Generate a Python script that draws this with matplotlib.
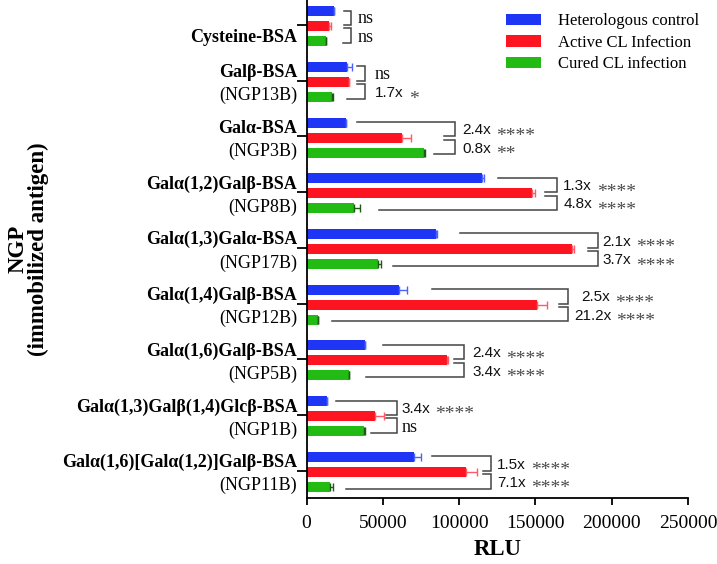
import matplotlib
matplotlib.use("Agg")
import matplotlib.pyplot as plt
import matplotlib.transforms as mtransforms
from matplotlib.patches import Patch
import numpy as np

# ---------------- data ----------------
names = ["Cysteine-BSA", "Galβ-BSA", "Galα-BSA", "Galα(1,2)Galβ-BSA",
         "Galα(1,3)Galα-BSA", "Galα(1,4)Galβ-BSA", "Galα(1,6)Galβ-BSA",
         "Galα(1,3)Galβ(1,4)Glcβ-BSA", "Galα(1,6)[Galα(1,2)]Galβ-BSA"]
ngp_codes = ["", "(NGP13B)", "(NGP3B)", "(NGP8B)", "(NGP17B)", "(NGP12B)",
             "(NGP5B)", "(NGP1B)", "(NGP11B)"]
series_names = ["Heterologous control", "Active CL Infection", "Cured CL infection"]

control = [18000, 26300, 25800, 114700, 84800, 60300, 38500, 13600, 70600]
control_err = [0, 3300, 0, 1700, 800, 5200, 0, 0, 4200]
active = [14700, 27800, 62300, 147900, 173700, 151200, 92200, 44600, 104500]
active_err = [1500, 0, 6100, 1800, 1700, 6300, 600, 5900, 7000]
cured = [12500, 16400, 77100, 31000, 47000, 7500, 27600, 37400, 15300]
cured_err = [500, 1000, 800, 4000, 1500, 0, 500, 1000, 2200]

# significance brackets (x in RLU)
bracket_x = [29100, 38100, 97200, 163900, 191100, 171500, 103300, 59000, 120800]
blue_start = [24500, 32800, 33200, 125600, 100500, 82000, 50300, 19300, 82400]
red_start = [24500, 33000, 90200, 156200, 184600, 165600, 96600, 52000, 115800]
green_start = [23700, 26700, 83700, 47400, 56400, 16800, 38900, 42000, 25800]
upper_labels = ["ns", "ns", "2.4x", "1.3x", "2.1x", "2.5x", "2.4x", "3.4x", "1.5x"]
upper_stars = ["", "", "****", "****", "****", "****", "****", "****", "****"]
lower_labels = ["ns", "1.7x", "0.8x", "4.8x", "3.7x", "21.2x", "3.4x", "ns", "7.1x"]
lower_stars = ["", "*", "**", "****", "****", "****", "****", "", "****"]
upper_label_x = [33700, 44800, 102300, 168200, 193800, 180200, 108800, 62300, 125000]
lower_label_x = [33700, 44800, 102300, 168200, 193800, 175300, 108800, 62300, 125000]

xticks = [0, 50000, 100000, 150000, 200000, 250000]

# ---------------- style ----------------
SERIF = ["Liberation Serif", "DejaVu Serif"]
SANS = ["Liberation Sans", "DejaVu Sans"]
plt.rcParams["font.family"] = SERIF

colors = ["#1f35f5", "#fc1420", "#22bb14"]
err_colors = ["#4a63ff", "#ff5a66", "#1d5a14"]

fig = plt.figure(figsize=(7.17, 5.64), dpi=100)
ax = fig.add_axes([306.6 / 717, 66 / 564, 381.4 / 717, 498 / 564])

y = np.arange(len(names))
off = 0.27
bh = 0.18
shift = 0.02
series = [(control, control_err), (active, active_err), (cured, cured_err)]
for i, (vals, errs) in enumerate(series):
    yy = y + shift + (i - 1) * off
    ax.barh(yy, vals, height=bh, color=colors[i], edgecolor="none",
            label=series_names[i], zorder=2)
    ax.errorbar(vals, yy, xerr=[np.zeros(len(errs)), errs], fmt="none",
                ecolor=err_colors[i], elinewidth=1.0, capsize=2.6,
                capthick=1.0, zorder=3)

ax.set_xlim(0, 250000)
ax.set_ylim(8.49, -0.45)
ax.set_xticks(xticks)
ax.set_xticklabels([str(t) for t in xticks], fontsize=14)
ax.set_yticks(y)
ax.set_yticklabels([])
for s in ["top", "right"]:
    ax.spines[s].set_visible(False)
for s in ["left", "bottom"]:
    ax.spines[s].set_linewidth(1.3)
ax.tick_params(axis="x", length=5, width=1.3, pad=7)
ax.tick_params(axis="y", length=7, width=1.3)

# category labels
ytr = ax.get_yaxis_transform()
for k in range(len(names)):
    if ngp_codes[k]:
        ax.annotate(names[k], xy=(0, y[k] - 0.145), xycoords=ytr,
                    xytext=(-6.7, 0), textcoords="offset points",
                    ha="right", va="center", fontsize=13, fontweight="bold")
        ax.annotate(ngp_codes[k], xy=(0, y[k] + 0.27), xycoords=ytr,
                    xytext=(-6.7, 0), textcoords="offset points",
                    ha="right", va="center", fontsize=13)
    else:
        ax.annotate(names[k], xy=(0, y[k] + 0.23), xycoords=ytr,
                    xytext=(-6.7, 0), textcoords="offset points",
                    ha="right", va="center", fontsize=13, fontweight="bold")

ax.set_ylabel("NGP\n(immobilized antigen)", fontsize=16.5, fontweight="bold",
              linespacing=0.95)
ax.yaxis.set_label_coords(-0.675, 0.5)
ax.set_xlabel("RLU", fontsize=16.5, fontweight="bold")
ax.xaxis.set_label_coords(0.5, -0.082)

# brackets
bc = "#444444"
for k in range(len(names)):
    yb = y[k] - 0.26
    yr1 = y[k] + 0.0
    yr2 = y[k] + 0.06
    yg = y[k] + 0.32
    xv = bracket_x[k]
    ax.plot([blue_start[k], xv, xv, red_start[k]], [yb, yb, yr1, yr1],
            color=bc, lw=1.1, solid_joinstyle="miter", zorder=1)
    ax.plot([red_start[k], xv, xv, green_start[k]], [yr2, yr2, yg, yg],
            color=bc, lw=1.1, solid_joinstyle="miter", zorder=1)

# labels
num_texts = []
for k in range(len(names)):
    for lab, stars, lx, ly in [(upper_labels[k], upper_stars[k], upper_label_x[k], y[k] - 0.11),
                               (lower_labels[k], lower_stars[k], lower_label_x[k], y[k] + 0.22)]:
        if lab == "ns":
            ax.text(lx, ly, lab, fontsize=13, ha="left", va="center",
                    color="#111111", family=SERIF)
        else:
            t = ax.text(lx, ly, lab, fontsize=11, ha="left", va="center",
                        color="#111111", family=SANS)
            num_texts.append((t, stars, lx, ly))

fig.canvas.draw()
renderer = fig.canvas.get_renderer()
for t, stars, lx, ly in num_texts:
    w = t.get_window_extent(renderer).width
    tr = mtransforms.offset_copy(ax.transData, fig=fig, x=w + 5, y=-6,
                                 units="dots")
    ax.text(lx, ly, stars, transform=tr,
            fontsize=14, ha="left", va="center", color="#4a4a4a",
            family=SERIF)

handles = [Patch(facecolor=c, edgecolor="none") for c in colors]
fig.legend(handles, series_names, loc="upper left",
           bbox_to_anchor=(503 / 717, 1 - 10 / 564), frameon=False,
           fontsize=12, handlelength=2.1, handleheight=0.65,
           handletextpad=1.0, labelspacing=0.33, borderpad=0.2,
           borderaxespad=0)

fig.savefig("out.png", dpi=100)
